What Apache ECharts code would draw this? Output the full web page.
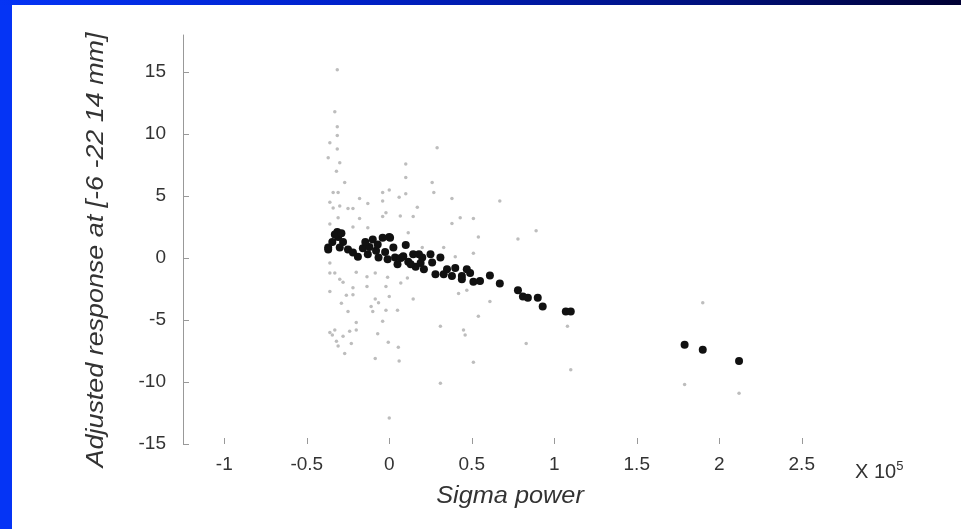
<!DOCTYPE html>
<html>
<head>
<meta charset="utf-8">
<script src="https://cdn.jsdelivr.net/npm/echarts@6/dist/echarts.min.js"></script>
<style>
  html, body { margin: 0; padding: 0; background: #fff; }
  #chart { width: 961px; height: 529px; }
  .barLeft { position: absolute; left: 0; top: 0; width: 12px; height: 529px; background: #0534f5; z-index: 2; }
  .barTop { position: absolute; left: 0; top: 0; width: 961px; height: 5px; background: linear-gradient(to right, #0534f5, #0022cc 35%, #00107a 75%, #000033); z-index: 2; }
</style>
</head>
<body>
<div class="barLeft"></div>
<div class="barTop"></div>
<div id="chart"></div>
<script>
// x values are in units of 10^5
const xTicks = [-1, -0.5, 0, 0.5, 1, 1.5, 2, 2.5];
const yTicks = [-15, -10, -5, 0, 5, 10, 15];

// adjusted (fitted) points - black
const fitted = [
  [-0.37, 0.85], [-0.37, 0.7], [-0.345, 1.3], [-0.315, 2.1], [-0.31, 1.7], [-0.28, 1.3],
  [-0.3, 0.85], [-0.33, 1.9], [-0.29, 2.0], [-0.25, 0.7], [-0.22, 0.45], [-0.19, 0.1],
  [-0.16, 0.8], [-0.12, 0.9], [-0.08, 0.6], [-0.145, 1.3], [-0.13, 0.3], [-0.1, 1.5],
  [-0.07, 1.1], [-0.065, 0.05], [-0.04, 1.65], [-0.025, 0.5], [-0.01, -0.1], [0.005, 1.65],
  [0.0, 1.7], [0.025, 0.85], [0.035, 0.05], [0.05, -0.5], [0.1, 1.05], [0.085, 0.15],
  [0.115, -0.3], [0.145, 0.3], [0.16, -0.7], [0.2, 0.05], [0.21, -0.9], [0.25, 0.3],
  [0.26, -0.35], [0.28, -1.3], [0.31, 0.05], [0.33, -1.3], [0.18, 0.3], [0.07, 0.0],
  [0.13, -0.5], [0.19, -0.4], [0.35, -0.9], [0.38, -1.45], [0.4, -0.8], [0.44, -1.45],
  [0.47, -0.9], [0.49, -1.2], [0.44, -1.7], [0.51, -1.9], [0.55, -1.85], [0.61, -1.4],
  [0.67, -2.05], [0.78, -2.6], [0.81, -3.1], [0.84, -3.2], [0.9, -3.2], [0.93, -3.9],
  [1.07, -4.3], [1.1, -4.3], [1.79, -7.0], [1.9, -7.4], [2.12, -8.3]
];

// raw responses - light grey
const raw = [
  [-0.315, 15.2], [-0.33, 11.8], [-0.315, 10.6], [-0.315, 9.9], [-0.36, 9.3], [-0.315, 8.8],
  [-0.37, 8.1], [-0.3, 7.7], [-0.32, 7.0], [-0.27, 6.1], [-0.34, 5.3], [-0.31, 5.3],
  [-0.36, 4.5], [-0.18, 4.8], [-0.13, 4.4], [-0.04, 5.3], [0.0, 5.5], [-0.04, 4.6],
  [0.06, 4.9], [0.1, 7.6], [0.1, 6.5], [0.1, 5.2], [0.26, 6.1], [0.27, 5.3], [0.29, 8.9],
  [0.38, 4.8], [0.67, 4.6], [0.43, 3.25], [0.38, 2.8], [0.51, 3.2], [0.54, 1.7], [0.78, 1.55],
  [0.89, 2.2], [0.33, 0.85], [0.4, 0.1], [0.51, 0.4], [0.17, 4.1], [0.145, 3.35], [0.067, 3.4],
  [-0.04, 3.35], [-0.02, 3.65], [-0.18, 3.2], [-0.13, 2.45], [-0.25, 4.0], [-0.22, 4.0],
  [-0.3, 4.2], [-0.34, 4.05], [0.115, 2.05], [0.2, 0.85], [-0.36, 2.75], [-0.31, 3.25],
  [-0.22, 2.5],
  [-0.36, -0.4], [-0.36, -1.2], [-0.33, -1.2], [-0.3, -1.7], [-0.28, -1.95], [-0.2, -1.15],
  [-0.135, -1.5], [-0.085, -1.2], [-0.01, -1.55], [0.07, -2.0], [0.11, -1.6], [-0.22, -2.4],
  [-0.36, -2.7], [-0.02, -2.3], [-0.135, -2.3], [-0.26, -3.0], [-0.22, -2.95], [0.0, -3.1],
  [-0.29, -3.65], [-0.085, -3.3], [-0.065, -3.6], [-0.11, -3.9], [-0.1, -4.3], [-0.25, -4.3],
  [-0.02, -4.2], [0.05, -4.2], [0.145, -3.3], [0.31, -5.5], [0.42, -2.85], [0.47, -2.6],
  [0.54, -4.7], [0.45, -5.8], [0.46, -6.2], [0.51, -8.4], [0.61, -3.5], [0.83, -6.9],
  [1.08, -5.5], [1.1, -9.0], [0.31, -10.1], [0.0, -12.9], [-0.2, -5.2], [-0.04, -5.1],
  [-0.36, -6.0], [-0.33, -5.8], [-0.345, -6.2], [-0.28, -6.3], [-0.24, -5.9], [-0.2, -5.8],
  [-0.32, -6.7], [-0.31, -7.1], [-0.23, -6.9], [-0.27, -7.7], [-0.07, -6.1], [-0.006, -6.8],
  [0.055, -7.2], [-0.085, -8.1], [0.06, -8.3], [1.9, -3.6], [1.79, -10.2], [2.12, -10.9]
];

const font = "'Liberation Sans Narrow', 'Liberation Sans', Arial, sans-serif";
const textColor = '#333';
const axisGrey = '#999';

const chart = echarts.init(document.getElementById('chart'));

const option = {
  backgroundColor: '#fff',
  animation: false,
  grid: { left: 183, right: 118, top: 35, bottom: 85 },
  xAxis: {
    type: 'value',
    min: -1.25,
    max: 2.75,
    axisLine: { show: false, onZero: false },
    axisTick: { show: true, inside: true, length: 6, customValues: xTicks, lineStyle: { color: axisGrey } },
    axisLabel: { customValues: xTicks, margin: 11, fontFamily: font, fontSize: 19, color: textColor },
    splitLine: { show: false }
  },
  yAxis: {
    type: 'value',
    min: -15,
    max: 18,
    axisLine: { show: true, onZero: false, lineStyle: { color: axisGrey, width: 1 } },
    axisTick: { show: true, inside: true, length: 6, customValues: yTicks, lineStyle: { color: axisGrey } },
    axisLabel: { customValues: yTicks, margin: 17, fontFamily: font, fontSize: 19, color: textColor },
    splitLine: { show: false }
  },
  graphic: [
    {
      type: 'text',
      x: 96,
      y: 250,
      rotation: Math.PI / 2,
      scaleX: 1.12,
      style: {
        text: 'Adjusted response at [-6 -22 14 mm]',
        fontFamily: font,
        fontSize: 24,
        fontStyle: 'italic',
        fill: textColor,
        align: 'center',
        verticalAlign: 'middle'
      }
    },
    {
      type: 'text',
      x: 510,
      y: 497,
      scaleX: 1.1,
      style: {
        text: 'Sigma power',
        fontFamily: font,
        fontSize: 23,
        fontStyle: 'italic',
        fill: textColor,
        align: 'center',
        verticalAlign: 'middle'
      }
    },
    {
      type: 'text',
      left: 855,
      top: 460,
      style: {
        text: 'X 10{sup|5}',
        fontFamily: font,
        fontSize: 20,
        fill: textColor,
        rich: { sup: { fontFamily: font, fontSize: 13, fill: textColor, verticalAlign: 'top', padding: [0, 0, 11, 0] } }
      }
    }
  ],
  series: [
    {
      type: 'scatter',
      data: raw,
      symbolSize: 3.5,
      itemStyle: { color: '#bdbdbd', opacity: 1 },
      z: 2
    },
    {
      type: 'scatter',
      data: fitted,
      symbolSize: 8,
      itemStyle: { color: '#111', opacity: 1 },
      z: 3
    }
  ]
};

chart.setOption(option);
</script>
</body>
</html>
